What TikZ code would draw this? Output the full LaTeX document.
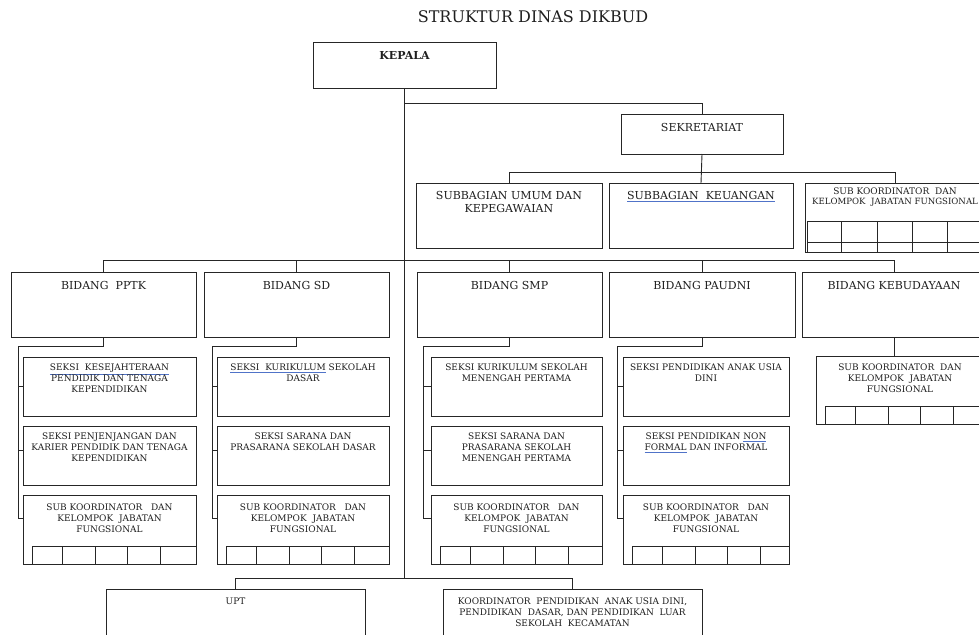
\documentclass[tikz,border=0pt]{standalone}
\usepackage{fontspec}
\setmainfont{DejaVu Serif}
\definecolor{ln}{gray}{0.15}
\definecolor{txtc}{gray}{0.12}
\definecolor{ulblue}{RGB}{80,115,200}
\newcommand\ul[1]{\textcolor{ulblue}{\underline{\textcolor{txtc}{#1}}}}
\tikzset{
 box/.style={draw=ln, line width=0.9pt, inner sep=0pt, outer sep=0pt},
 conn/.style={draw=ln, line width=0.9pt},
 gridln/.style={draw=ln, line width=0.8pt},
 bigtxt/.style={text=txtc, inner sep=0pt, align=center, font=\fontsize{11}{13}\selectfont},
 smtxt/.style={text=txtc, inner sep=0pt, align=center, font=\fontsize{9}{11}\selectfont},
 titletxt/.style={text=txtc, inner sep=0pt, font=\fontsize{16}{19}\selectfont},
}
\newcommand\mkbox[5]{\node[box, minimum width={(#4-#2)*1pt}, minimum height={(#5-#3)*1pt}] (#1) at ({(#2+#4)/2},{(#3+#5)/2}) {};}
\newcommand\mktxt[4]{\node[#4, anchor=north] (#1-t) at ([yshift=-#2pt]#1.north) {#3};}
\newcommand\mkgrid[4]{%
 \draw[gridln] (#1+9,#3) -- (#2,#3);
 \foreach \o in {9,39,72,104,137} \draw[gridln] (#1+\o,#3) -- (#1+\o,#4);}
\newcommand\seksi[7]{%
 \mkbox{#1a}{#2}{357}{#3}{416}\mktxt{#1a}{7}{#5}{smtxt}
 \mkbox{#1b}{#2}{426}{#3}{485}\mktxt{#1b}{7}{#6}{smtxt}
 \mkbox{#1c}{#2}{495}{#3}{564}\mktxt{#1c}{8.5}{SUB KOORDINATOR \ \ DAN\\KELOMPOK \ JABATAN\\FUNGSIONAL}{smtxt}
 \mkgrid{#2}{#3}{546}{564}
 \coordinate (#1k) at (#4,346);
 \draw[conn] (#7.south) |- (#1k) |- ([yshift=11pt]#1c.west);
 \draw[conn] (#1a.west) -- (#1a.west -| #1k);
 \draw[conn] ([yshift=5pt]#1b.west) -- ([yshift=5pt]#1b.west -| #1k);
}
\begin{document}
\begin{tikzpicture}[x=1pt,y=-1pt]
\useasboundingbox (0,0) rectangle (979,634);
\fill[white] (0,0) rectangle (979,634);
\clip (0,0) rectangle (979,634);

\node[titletxt] (title) at (533,17) {STRUKTUR DINAS DIKBUD};

% top level
\mkbox{kepala}{313}{42}{496}{88}\mktxt{kepala}{9}{\bfseries KEPALA}{bigtxt}
\mkbox{sekr}{621}{114}{783}{154}\mktxt{sekr}{9}{SEKRETARIAT}{bigtxt}
\mkbox{umum}{416}{183}{602}{248}\mktxt{umum}{8}{SUBBAGIAN UMUM DAN\\KEPEGAWAIAN}{bigtxt}
\mkbox{keu}{609}{183}{793}{248}\mktxt{keu}{8}{\ul{SUBBAGIAN \ KEUANGAN}}{bigtxt}
\mkbox{sk}{805}{183}{985}{252}
\node[smtxt, anchor=north] (sk-t) at ([yshift=-5pt]sk.north) {SUB KOORDINATOR \ DAN\\[-1.5pt]{\fontsize{8.6}{10}\selectfont KELOMPOK \ JABATAN FUNGSIONAL}};
\draw[gridln] (807,221) -- (985,221);
\draw[gridln] (807,242) -- (985,242);
\foreach \x in {807,841,877,912,947} \draw[gridln] (\x,221) -- (\x,252);

% bidang row
\mkbox{pptk}{11}{272}{196}{337}\mktxt{pptk}{9}{BIDANG \ PPTK}{bigtxt}
\mkbox{sd}{204}{272}{389}{337}\mktxt{sd}{9}{BIDANG SD}{bigtxt}
\mkbox{smp}{417}{272}{602}{337}\mktxt{smp}{9}{BIDANG SMP}{bigtxt}
\mkbox{paud}{609}{272}{795}{337}\mktxt{paud}{9}{BIDANG PAUDNI}{bigtxt}
\mkbox{keb}{802}{272}{986}{337}\mktxt{keb}{9}{BIDANG KEBUDAYAAN}{bigtxt}
\mkbox{kebsk}{816}{356}{984}{424}\mktxt{kebsk}{8}{SUB KOORDINATOR \ DAN\\KELOMPOK \ JABATAN\\FUNGSIONAL}{smtxt}
\mkgrid{816}{984}{406}{424}

% bottom
\mkbox{upt}{106}{589}{365}{660}\mktxt{upt}{9}{UPT}{smtxt}
\mkbox{koord}{443}{589}{702}{660}\mktxt{koord}{9}{KOORDINATOR \ PENDIDIKAN \ ANAK USIA DINI,\\PENDIDIKAN \ DASAR, DAN PENDIDIKAN \ LUAR\\SEKOLAH \ KECAMATAN}{smtxt}

% connectors
\coordinate (j1) at ([yshift=-15pt]kepala.south);
\coordinate (j2) at (404.5,260);
\coordinate (j3) at ([yshift=-18pt]sekr.south);
\coordinate (j4) at (404.5,578);
\draw[conn] (kepala.south) -- (j4);
\draw[conn] (j1) -| (sekr.north);
\draw[conn] (sekr.south) -- (keu.north);
\draw[conn] (umum.north) |- (sk.north |- j3) -- (sk.north);
\draw[conn] (pptk.north) |- (keb.north |- j2) -- (keb.north);
\draw[conn] (sd.north) -- (sd.north |- j2);
\draw[conn] (smp.north) -- (smp.north |- j2);
\draw[conn] (paud.north) -- (paud.north |- j2);
\draw[conn] (keb.south) -- (keb.south |- kebsk.north);
\draw[conn] (upt.north) |- (koord.north |- j4) -- (koord.north);

% seksi groups
\seksi{pp}{23}{196}{18}{\ul{SEKSI \ KESEJAHTERAAN}\\PENDIDIK DAN TENAGA\\KEPENDIDIKAN}{SEKSI PENJENJANGAN DAN\\KARIER PENDIDIK DAN TENAGA\\KEPENDIDIKAN}{pptk}
\seksi{sdx}{217}{389}{212}{\ul{SEKSI \ KURIKULUM} SEKOLAH\\DASAR}{SEKSI SARANA DAN\\PRASARANA SEKOLAH DASAR}{sd}
\seksi{smx}{431}{602}{423}{SEKSI KURIKULUM SEKOLAH\\MENENGAH PERTAMA}{SEKSI SARANA DAN\\PRASARANA SEKOLAH\\MENENGAH PERTAMA}{smp}
\seksi{pdx}{623}{789}{617}{SEKSI PENDIDIKAN ANAK USIA\\DINI}{SEKSI PENDIDIKAN \ul{NON}\\\ul{FORMAL} DAN INFORMAL}{paud}
\end{tikzpicture}
\end{document}
